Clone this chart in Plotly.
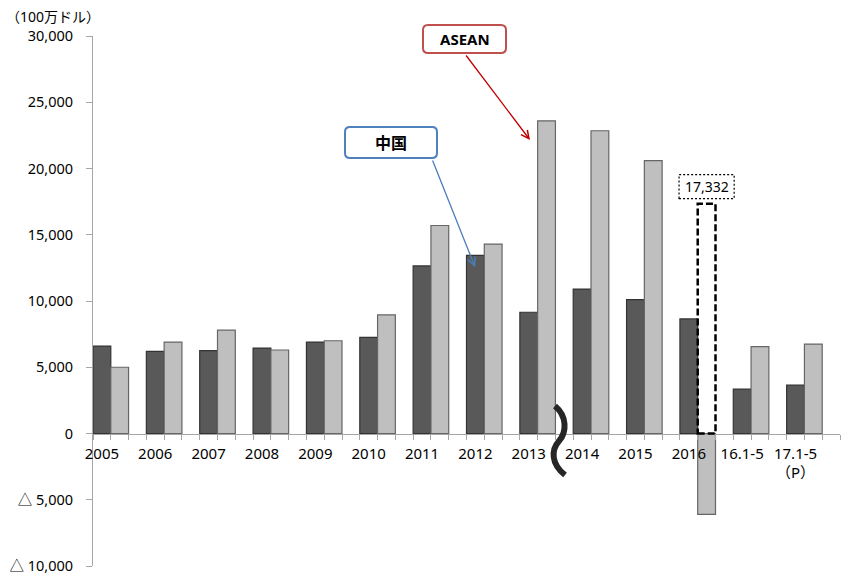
import plotly.graph_objects as go

# ---- data (100万ドル) ----
categories = ["2005", "2006", "2007", "2008", "2009", "2010", "2011", "2012",
              "2013", "2014", "2015", "2016", "16.1-5", "17.1-5<br>（P）"]
china = [6600, 6200, 6250, 6450, 6900, 7250, 12650, 13450, 9150, 10900, 10100, 8650, 3350, 3650]
asean = [5000, 6900, 7800, 6300, 7000, 8950, 15700, 14300, 23600, 22850, 20600, -6100, 6550, 6750]
asean_2016_ref = 17332          # dashed reference bar for 2016
ref_label = "17,332"
y_ticks = [-10000, -5000, 0, 5000, 10000, 15000, 20000, 25000, 30000]
y_ticktext = ["△ 10,000", "△ 5,000", "0", "5,000", "10,000", "15,000", "20,000", "25,000", "30,000"]

# each category occupies 3 slots: China, ASEAN, blank
x_china = [3 * i for i in range(len(categories))]
x_asean = [3 * i + 1 for i in range(len(categories))]
n_slots = 3 * len(categories)

W, H = 842, 574
PL, PR, PT, PB = 93, 840, 36, 566
FONT = "Noto Sans, Noto Sans CJK JP, sans-serif"


def P(x, y):
    return ((x - PL) / (PR - PL), (PB - y) / (PB - PT))


def rounded_rect(x0, y0, x1, y1, r):
    def pt(x, y):
        a, b = P(x, y)
        return f"{a:.5f},{b:.5f}"
    s = "M " + pt(x0 + r, y0)
    s += " L " + pt(x1 - r, y0) + " Q " + pt(x1, y0) + " " + pt(x1, y0 + r)
    s += " L " + pt(x1, y1 - r) + " Q " + pt(x1, y1) + " " + pt(x1 - r, y1)
    s += " L " + pt(x0 + r, y1) + " Q " + pt(x0, y1) + " " + pt(x0, y1 - r)
    s += " L " + pt(x0, y0 + r) + " Q " + pt(x0, y0) + " " + pt(x0 + r, y0) + " Z"
    return s


def path(points):
    def pt(p):
        a, b = P(*p)
        return f"{a:.5f},{b:.5f}"
    p = points
    return ("M " + pt(p[0]) + " C " + pt(p[1]) + " " + pt(p[2]) + " " + pt(p[3]) +
            " C " + pt(p[4]) + " " + pt(p[5]) + " " + pt(p[6]))


fig = go.Figure()
fig.add_trace(go.Bar(x=x_china, y=china, width=1, name="中国",
                     marker=dict(color="#595959", line=dict(color="#333333", width=1.2))))
fig.add_trace(go.Bar(x=x_asean, y=asean, width=1, name="ASEAN",
                     marker=dict(color="#bfbfbf", line=dict(color="#666666", width=1.2))))

shapes = []
i16 = categories.index("2016")
shapes.append(dict(type="rect", xref="x", yref="y",
                   x0=x_asean[i16] - 0.5, x1=x_asean[i16] + 0.5, y0=0, y1=asean_2016_ref,
                   line=dict(color="black", width=2.5, dash="7px,3px"), layer="above"))
shapes.append(dict(type="rect", xref="x", yref="y",
                   x0=x_asean[i16] - 1.55, x1=x_asean[i16] + 1.55,
                   y0=asean_2016_ref + 400, y1=asean_2016_ref + 2200,
                   line=dict(color="black", width=1.2, dash="2px,2px"), layer="above"))
shapes.append(dict(type="path", xref="paper", yref="paper",
                   path=rounded_rect(423, 25, 506, 53, 5),
                   line=dict(color="#c0504d", width=2), fillcolor="white"))
shapes.append(dict(type="path", xref="paper", yref="paper",
                   path=rounded_rect(345, 127, 437, 158, 5),
                   line=dict(color="#4f81bd", width=2), fillcolor="white"))
shapes.append(dict(type="path", xref="paper", yref="paper",
                   path=path([(555, 406), (567, 416), (567, 432), (559, 441),
                              (551, 450), (551, 464), (565, 475)]),
                   line=dict(color="#262626", width=6), layer="above"))

annotations = []
annotations.append(dict(xref="paper", yref="paper", x=P(465, 39)[0], y=P(465, 39)[1],
                        xanchor="center", yanchor="middle",
                        text="<b>ASEAN</b>", showarrow=False,
                        font=dict(family=FONT, size=15, color="black")))
annotations.append(dict(xref="paper", yref="paper", x=P(391, 143)[0], y=P(391, 143)[1],
                        xanchor="center", yanchor="middle",
                        text="<b>中国</b>", showarrow=False,
                        font=dict(family=FONT, size=16, color="black")))
ha = P(530, 140)
annotations.append(dict(xref="paper", yref="paper", x=ha[0], y=ha[1],
                        ax=465 - 530, ay=54 - 140, text="", showarrow=True,
                        arrowhead=5, arrowsize=1.2, arrowwidth=1.3, arrowcolor="#c00000"))
hc = P(475, 267)
annotations.append(dict(xref="paper", yref="paper", x=hc[0], y=hc[1],
                        ax=432 - 475, ay=159 - 267, text="", showarrow=True,
                        arrowhead=5, arrowsize=1.2, arrowwidth=1.3, arrowcolor="#4a7ebb"))
annotations.append(dict(xref="x", yref="y", x=x_asean[i16], y=asean_2016_ref + 1300,
                        xanchor="center", yanchor="middle",
                        text=ref_label, showarrow=False,
                        font=dict(family=FONT, size=14, color="black")))
ul = P(4, 16)
annotations.append(dict(xref="paper", yref="paper", x=ul[0], y=ul[1],
                        xanchor="left", yanchor="middle",
                        text="（100万ドル）", showarrow=False,
                        font=dict(family=FONT, size=14, color="black")))

y_min, y_max = -10000, 30000
fig.update_layout(
    width=W, height=H,
    margin=dict(l=PL, r=W - PR, t=PT, b=H - PB, autoexpand=False),
    paper_bgcolor="white", plot_bgcolor="white",
    showlegend=False, barmode="overlay",
    font=dict(family=FONT, size=15, color="black"),
    shapes=shapes, annotations=annotations,
    xaxis=dict(range=[-0.5, n_slots - 0.5], anchor="free",
               position=(0 - y_min) / (y_max - y_min), automargin=False,
               tickmode="array", tickvals=x_china, ticktext=categories,
               ticks="", showline=True, linecolor="#a6a6a6", linewidth=1,
               showgrid=False, zeroline=False, ticklabelstandoff=6,
               ticklabeloverflow="allow",
               tickfont=dict(family=FONT, size=15, color="black"),
               minor=dict(ticks="outside", tickmode="linear", tick0=-0.5, dtick=1,
                          ticklen=5, tickcolor="#a6a6a6", showgrid=False)),
    yaxis=dict(range=[y_min, y_max], tickmode="array", tickvals=y_ticks, ticktext=y_ticktext,
               ticks="outside", ticklen=6, tickcolor="#a6a6a6", showline=True,
               linecolor="#a6a6a6", linewidth=1, showgrid=False, zeroline=False,
               ticklabelstandoff=10, automargin=False, ticklabeloverflow="allow",
               tickfont=dict(family=FONT, size=14.5, color="black")),
)

fig.write_html("out.html", config={"displayModeBar": False},
               post_script="document.body.style.margin='0px';document.body.style.overflow='hidden';")
